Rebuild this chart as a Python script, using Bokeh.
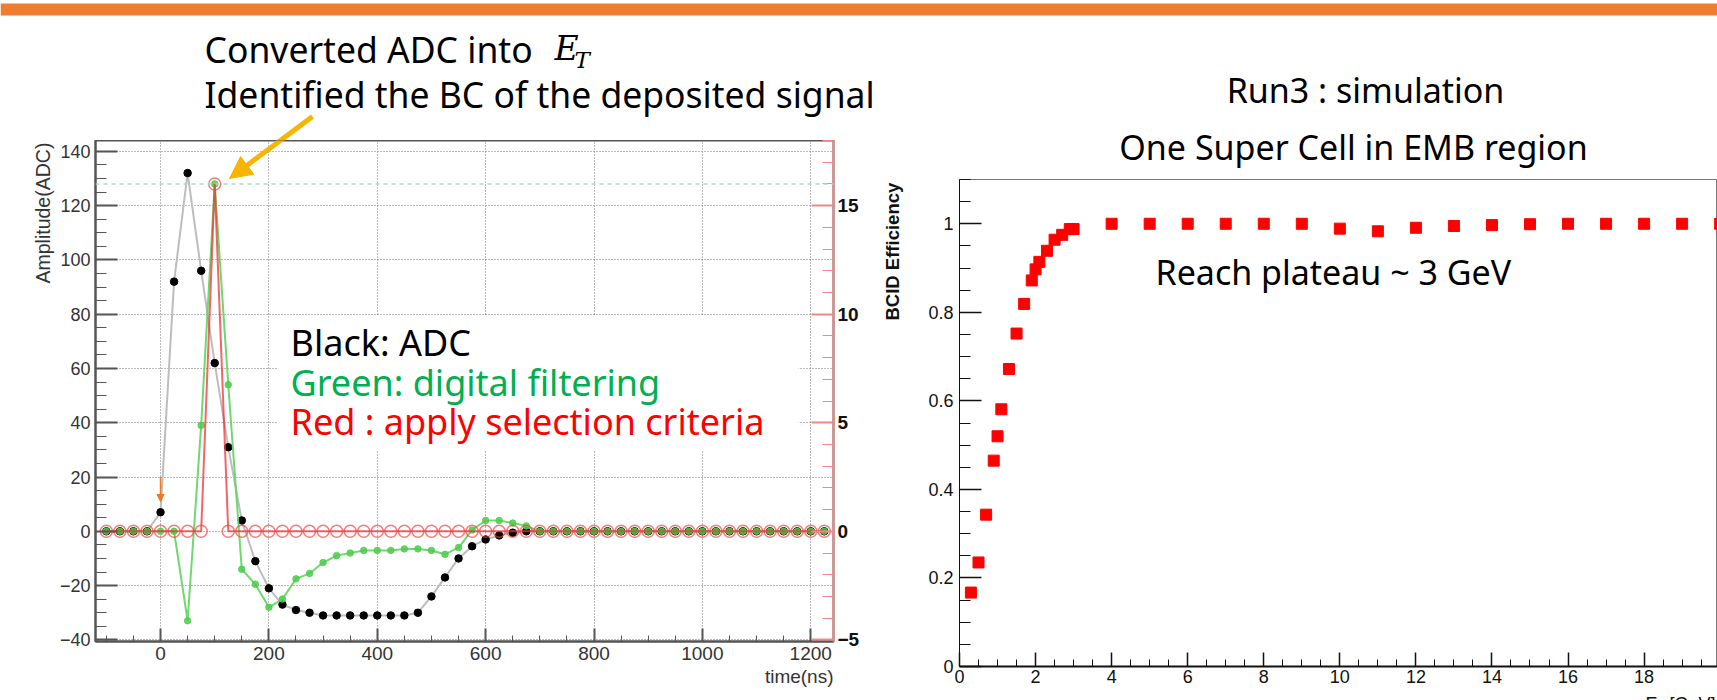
import math
from bokeh.plotting import figure
from bokeh.layouts import row, column
from bokeh.models import (Range1d, LinearAxis, SingleIntervalTicker, Label, Span, Arrow,
                          NormalHead, BoxAnnotation, CustomJSTickFormatter)
from bokeh.embed import file_html
from bokeh.resources import INLINE

# ---------------- data: left panel (pulse shape) ----------------
time_ns = [-100, -75, -50, -25, 0, 25, 50, 75, 100, 125, 150, 175, 200, 225, 250, 275,
           300, 325, 350, 375, 400, 425, 450, 475, 500, 525, 550, 575, 600, 625, 650, 675,
           700, 725, 750, 775, 800, 825, 850, 875, 900, 925, 950, 975, 1000, 1025, 1050,
           1075, 1100, 1125, 1150, 1175, 1200, 1225]
adc_black = [0, 0, 0, 0, 7, 92, 132, 96, 62, 31, 4, -11, -21, -27, -29, -30,
             -31, -31, -31, -31, -31, -31, -31, -30, -24, -17, -10, -5.5, -3, -1.5, -0.5, 0,
             0, 0, 0, 0, 0, 0, 0, 0, 0, 0, 0, 0, 0, 0, 0,
             0, 0, 0, 0, 0, 0, 0]
filter_green_et = [0, 0, 0, 0, 0, 0, -4.12, 4.88, 16.0, 6.75, -1.75, -2.44, -3.5, -3.12, -2.19, -1.94,
                   -1.44, -1.12, -1.0, -0.88, -0.88, -0.88, -0.81, -0.81, -0.88, -1.06, -0.75, 0.06, 0.5, 0.5, 0.38, 0.25,
                   0, 0, 0, 0, 0, 0, 0, 0, 0, 0, 0, 0, 0, 0, 0,
                   0, 0, 0, 0, 0, 0, 0]
select_red_et = [0, 0, 0, 0, 0, 0, 0, 0, 16.0, 0, 0, 0, 0, 0, 0, 0,
                 0, 0, 0, 0, 0, 0, 0, 0, 0, 0, 0, 0, 0, 0, 0, 0,
                 0, 0, 0, 0, 0, 0, 0, 0, 0, 0, 0, 0, 0, 0, 0,
                 0, 0, 0, 0, 0, 0, 0]
ADC_PER_ET = 8.0

# ---------------- data: right panel (BCID efficiency) ----------------
et_gev = [0.3, 0.5, 0.7, 0.9, 1.0, 1.1, 1.3, 1.5, 1.7, 1.9, 2.0, 2.1, 2.3, 2.5, 2.7, 2.9, 3.0,
          4, 5, 6, 7, 8, 9, 10, 11, 12, 13, 14, 15, 16, 17, 18, 19, 20]
bcid_eff = [0.167, 0.235, 0.343, 0.465, 0.520, 0.581, 0.672, 0.752, 0.819, 0.872, 0.897, 0.914,
            0.939, 0.964, 0.975, 0.988, 0.988,
            1.0, 1.0, 1.0, 1.0, 1.0, 1.0, 0.989, 0.983, 0.991, 0.995, 0.997, 0.999, 1.0, 1.0, 1.0, 1.0, 1.0]

# ---------------- texts ----------------
note_line1 = "Converted ADC into"
note_line2 = "Identified the BC of the deposited signal"
legend_lines = ["Black: ADC", "Green: digital filtering", "Red : apply selection criteria"]
legend_colors = ["#000000", "#00B050", "#FF0000"]
left_ylabel = "Amplitude(ADC)"
left_xlabel = "time(ns)"
right_title1 = "Run3 : simulation"
right_title2 = "One Super Cell in EMB region"
right_ylabel = "BCID Efficiency"
right_xlabel_unit = "[GeV]"
plateau_note = "Reach plateau ~ 3 GeV"

SLIDE_FONT = "Noto Sans"
AX_FONT = "Liberation Sans"
ORANGE = "#ED7D31"
GOLD = "#F7B500"
MID = "middle"


def blank(width, height, x0=0, y0=0, border_bottom=0):
    """Figure whose frame covers the canvas; data units are page pixels (y downwards)."""
    f = figure(width=width, height=height, output_backend="svg", toolbar_location=None,
               x_range=Range1d(x0, x0 + width), y_range=Range1d(y0 + height - border_bottom, y0),
               x_axis_type=None, y_axis_type=None, title_location=None,
               min_border_left=0, min_border_right=0, min_border_top=0,
               min_border_bottom=border_bottom)
    f.outline_line_color = None
    f.background_fill_color = "white"
    f.border_fill_color = "white"
    return f


# ---------------- page geometry (page px, origin at top-left) ----------------
W, H = 1717, 700
BAND_H = 16
COL_L_W = 880
COL_R_W = W - COL_L_W
FR1 = dict(l=95, r=833, t=140, b=641)       # left plot frame
FR2 = dict(l=959, r=W, t=179, b=666)        # right plot frame
STRIP_L_W = 56
STRIP_R_W = 25
P1_BOTTOM = 668                  # bottom of left plot canvas
P2_BOTTOM = 690                  # bottom of right plot canvas

X1 = (-120.0, 1242.0)
Y1 = (-40.6, 144.0)
X2 = (0.0, 19.93)
Y2 = (0.0, 1.1)


def p1x(px):
    return X1[0] + (px - FR1["l"]) / (FR1["r"] - FR1["l"]) * (X1[1] - X1[0])


def p1y(py):
    return Y1[1] - (py - FR1["t"]) / (FR1["b"] - FR1["t"]) * (Y1[1] - Y1[0])


def p2x(px):
    return X2[0] + (px - FR2["l"]) / (FR2["r"] - FR2["l"]) * (X2[1] - X2[0])


def p2y(py):
    return Y2[1] - (py - FR2["t"]) / (FR2["b"] - FR2["t"]) * (Y2[1] - Y2[0])


minus_fmt = CustomJSTickFormatter(code="return tick < 0 ? '\u2212' + (-tick) : String(tick);")

ARROW_START = (312, 116)
ARROW_TIP = (229, 178)


def gold_arrow(xs, ys, xe, ye):
    return Arrow(x_start=xs, y_start=ys, x_end=xe, y_end=ye, line_color=GOLD, line_width=5,
                 end=NormalHead(size=22, fill_color=GOLD, line_color=GOLD))


# ================= left plot =================
p1_w = COL_L_W - STRIP_L_W
p1_h = P1_BOTTOM - FR1["t"]
p1 = figure(width=p1_w, height=p1_h, output_backend="svg", toolbar_location=None,
            x_range=Range1d(*X1), y_range=Range1d(*Y1), title_location=None,
            min_border_left=FR1["l"] - STRIP_L_W,
            min_border_right=COL_L_W - FR1["r"],
            min_border_top=0,
            min_border_bottom=P1_BOTTOM - FR1["b"])
p1.extra_y_ranges = {"et": Range1d(Y1[0] / ADC_PER_ET, Y1[1] / ADC_PER_ET)}
p1.outline_line_color = "#555555"
p1.outline_line_width = 2
p1.background_fill_color = "white"
p1.border_fill_color = "white"

xa = p1.xaxis[0]
xa.ticker = SingleIntervalTicker(interval=200, num_minor_ticks=4)
ya = p1.yaxis[0]
ya.ticker = SingleIntervalTicker(interval=20, num_minor_ticks=4)
ya.formatter = minus_fmt
for ax, tin, tmin, fs in ((xa, 13, 6, "19px"), (ya, 22, 11, "18px")):
    ax.axis_line_color = "#555555"
    ax.axis_line_width = 2
    ax.major_tick_line_color = "#555555"
    ax.minor_tick_line_color = "#555555"
    ax.major_tick_line_width = 2
    ax.major_tick_in = tin
    ax.major_tick_out = 0
    ax.minor_tick_in = tmin
    ax.minor_tick_out = 0
    ax.major_label_text_font = AX_FONT
    ax.major_label_text_font_size = fs
    ax.major_label_text_color = "#333333"
    ax.major_label_standoff = 5

p1.grid.grid_line_color = "#777777"
p1.grid.grid_line_dash = "1 2"
p1.grid.grid_line_width = 1

ax_r = LinearAxis(y_range_name="et", ticker=SingleIntervalTicker(interval=5, num_minor_ticks=5),
                  formatter=minus_fmt,
                  axis_line_color="#f08888", axis_line_width=2,
                  major_tick_line_color="#f08888", minor_tick_line_color="#f08888",
                  major_tick_line_width=2,
                  major_tick_in=22, major_tick_out=0, minor_tick_in=11, minor_tick_out=0,
                  major_label_text_font=AX_FONT, major_label_text_font_style="bold",
                  major_label_text_font_size="19px", major_label_text_color="#111111",
                  major_label_standoff=4)
p1.add_layout(ax_r, "right")

# white background of the slide text box (hides the grid under the text)
p1.add_layout(BoxAnnotation(left=p1x(277), right=p1x(798), top=p1y(315), bottom=p1y(450),
                            fill_color="white", fill_alpha=1.0, line_color=None, level="underlay"))

# peak level reference line
peak_adc = max(select_red_et) * ADC_PER_ET
p1.add_layout(Span(location=peak_adc, dimension="width", line_color="#a8dcc8",
                   line_dash="4 4", line_width=1.5))

p1.line(time_ns, adc_black, line_color="#bdbdbd", line_width=2)
p1.scatter(time_ns, adc_black, size=7.5, color="black")
p1.line(time_ns, filter_green_et, y_range_name="et", line_color="#5fd45f", line_width=2, line_alpha=0.9)
p1.scatter(time_ns, filter_green_et, y_range_name="et", size=6.5, color="#4ccc4c", alpha=0.85)
p1.line(time_ns, select_red_et, y_range_name="et", line_color="#ee3333", line_width=2, line_alpha=0.75)
p1.scatter(time_ns, select_red_et, y_range_name="et", size=12, fill_color=None,
           line_color="#ee4444", line_width=1.5, line_alpha=0.7)

# small orange marker at t = 0
t0 = time_ns.index(0)
p1.add_layout(Arrow(x_start=0, y_start=adc_black[t0] + 13, x_end=0, y_end=adc_black[t0] + 4,
                    line_color="#f07820", line_width=1.5,
                    end=NormalHead(size=7, fill_color="#f07820", line_color="#f07820")))

# gold annotation arrow: lower part (the upper part is drawn in the header)
p1.add_layout(gold_arrow(p1x(ARROW_START[0]), p1y(ARROW_START[1]),
                         p1x(ARROW_TIP[0]), p1y(ARROW_TIP[1])))

for i, (txt, col) in enumerate(zip(legend_lines, legend_colors)):
    p1.add_layout(Label(x=p1x(290), y=p1y(342 + 39.5 * i), text=txt, text_font=SLIDE_FONT,
                        text_font_size="36px", text_color=col, text_baseline=MID))

stripL = blank(STRIP_L_W, p1_h, x0=0, y0=FR1["t"], border_bottom=P1_BOTTOM - FR1["b"])
stripL.add_layout(Label(x=42, y=283, text=left_ylabel, angle=math.pi / 2,
                        text_align="left", text_baseline=MID, text_font=AX_FONT,
                        text_font_size="19.5px", text_color="#333333"))

stripB = blank(COL_L_W, H - P1_BOTTOM, x0=0, y0=P1_BOTTOM)
stripB.add_layout(Label(x=FR1["r"], y=676, text=left_xlabel,
                        text_align="right", text_baseline=MID, text_font=AX_FONT,
                        text_font_size="19px", text_color="#333333"))

hdrL = blank(COL_L_W, FR1["t"] - BAND_H, x0=0, y0=BAND_H)
hdrL.add_layout(Label(x=204, y=48, text=note_line1, text_font=SLIDE_FONT,
                      text_font_size="35.5px", text_color="black", text_baseline=MID))
hdrL.add_layout(Label(x=554, y=48, text="E", text_font="DejaVu Serif",
                      text_font_style="italic", text_font_size="33px", text_color="black",
                      text_baseline=MID))
hdrL.add_layout(Label(x=574, y=59, text="T", text_font="DejaVu Serif",
                      text_font_style="italic", text_font_size="23px", text_color="black",
                      text_baseline=MID))
hdrL.add_layout(Label(x=204, y=93, text=note_line2, text_font=SLIDE_FONT,
                      text_font_size="35.5px", text_color="black", text_baseline=MID))
hdrL.add_layout(gold_arrow(ARROW_START[0], ARROW_START[1], ARROW_TIP[0], ARROW_TIP[1]))

colL = column(hdrL, row(stripL, p1), stripB)

# ================= right plot =================
p2_w = COL_R_W - STRIP_R_W
p2_h = P2_BOTTOM - FR2["t"]
p2 = figure(width=p2_w, height=p2_h, output_backend="svg", toolbar_location=None,
            x_range=Range1d(*X2), y_range=Range1d(*Y2), title_location=None,
            min_border_left=FR2["l"] - (COL_L_W + STRIP_R_W), min_border_right=0,
            min_border_top=0, min_border_bottom=P2_BOTTOM - FR2["b"])
p2.grid.visible = False
p2.outline_line_color = "#777777"
p2.outline_line_width = 1
p2.border_fill_color = "white"

xb = p2.xaxis[0]
xb.ticker = SingleIntervalTicker(interval=2, num_minor_ticks=4)
yb = p2.yaxis[0]
yb.ticker = SingleIntervalTicker(interval=0.2, num_minor_ticks=4)
yb.formatter = CustomJSTickFormatter(code="return String(Math.round(tick * 100) / 100);")
for ax, tin, tmin, lw in ((xb, 14, 7, 2), (yb, 22, 11, 1)):
    ax.axis_line_color = "#111111"
    ax.axis_line_width = lw
    ax.major_tick_line_color = "#111111"
    ax.minor_tick_line_color = "#111111"
    ax.major_tick_line_width = 1.5
    ax.major_tick_in = tin
    ax.major_tick_out = 0
    ax.minor_tick_in = tmin
    ax.minor_tick_out = 0
    ax.major_label_text_font = AX_FONT
    ax.major_label_text_font_size = "18px"
    ax.major_label_text_color = "#111111"
xb.major_label_standoff = 3
yb.major_label_standoff = 6

p2.scatter(et_gev, bcid_eff, marker="square", size=11, color="#FF0000")
p2.add_layout(Label(x=p2x(1155), y=p2y(271), text=plateau_note,
                    text_font=SLIDE_FONT, text_font_size="34px", text_color="black",
                    text_baseline=MID))

stripR = blank(STRIP_R_W, p2_h, x0=COL_L_W, y0=FR2["t"], border_bottom=P2_BOTTOM - FR2["b"])
stripR.add_layout(Label(x=891.5, y=320, text=right_ylabel, angle=math.pi / 2,
                        text_align="left", text_baseline=MID, text_font=AX_FONT,
                        text_font_style="bold", text_font_size="18.5px", text_color="#111111"))

stripB2 = blank(COL_R_W, H - P2_BOTTOM, x0=COL_L_W, y0=P2_BOTTOM)
for txt, x, y, fs in (("E", 1645, 701, "18px"),
                      ("T", 1657, 706, "13px"),
                      (right_xlabel_unit, 1669, 701, "18px")):
    stripB2.add_layout(Label(x=x, y=y, text=txt, text_font=AX_FONT, text_font_size=fs,
                             text_color="#111111", text_baseline=MID))

hdrR = blank(COL_R_W, FR2["t"] - BAND_H, x0=COL_L_W, y0=BAND_H)
hdrR.add_layout(Label(x=1365, y=89, text=right_title1, text_align="center",
                      text_font=SLIDE_FONT, text_font_size="34px", text_color="black",
                      text_baseline=MID))
hdrR.add_layout(Label(x=1353, y=146, text=right_title2, text_align="center",
                      text_font=SLIDE_FONT, text_font_size="34px", text_color="black",
                      text_baseline=MID))

colR = column(hdrR, row(stripR, p2), stripB2)

# ================= orange band across the top of the slide =================
band = blank(W, BAND_H, x0=0, y0=0)
band.add_layout(BoxAnnotation(left=0, right=W, top=3, bottom=15,
                              fill_color=ORANGE, fill_alpha=1.0, line_color=None))

layout = column(band, row(colL, colR))
open("out.html", "w").write(file_html(layout, INLINE))
